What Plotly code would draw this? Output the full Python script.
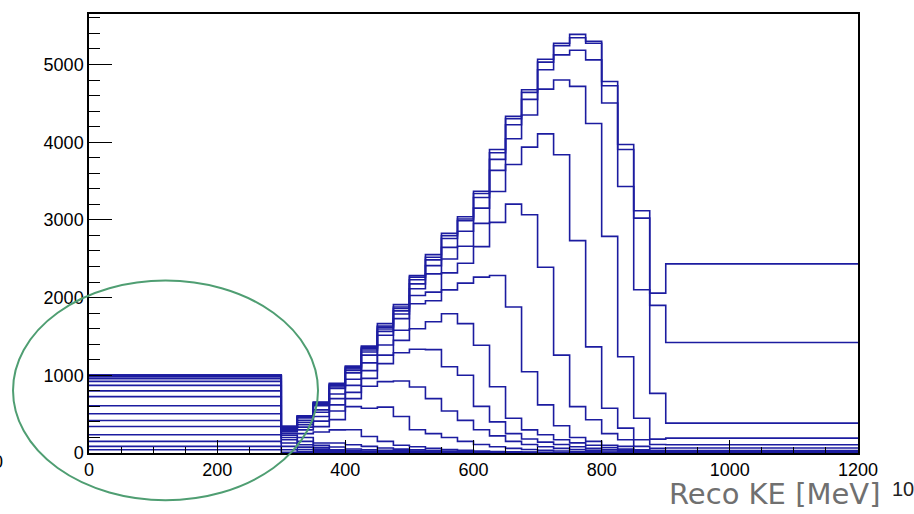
import numpy as np
import plotly.graph_objects as go

# Reco KE bin edges [MeV]: one wide low bin, 25 MeV bins from 300 to 900, one wide high bin
bin_edges = [0, 300] + list(range(325, 901, 25)) + [1200]

# Stacked (cumulative) event counts, from the lowest true-KE slice up to the full sum
level_01 = [42, 10, 5, 5, 4, 3, 2, 2, 1, 1, 1, 1, 1, 0, 0, 0, 0, 0, 0, 0, 0, 0, 0, 0, 0, 0]
level_02 = [85, 42, 20, 15, 10, 7, 5, 4, 3, 3, 2, 2, 2, 1, 1, 1, 1, 0, 0, 0, 0, 0, 0, 0, 0, 0]
level_03 = [149, 85, 45, 30, 18, 12, 9, 7, 6, 5, 4, 3, 3, 2, 2, 2, 1, 1, 1, 1, 0, 0, 0, 0, 0, 0]
level_04 = [234, 128, 75, 50, 30, 20, 15, 12, 10, 8, 7, 6, 5, 4, 3, 3, 2, 2, 1, 1, 1, 0, 0, 0, 0, 0]
level_05 = [341, 170, 107, 70, 42, 30, 25, 20, 18, 15, 12, 10, 8, 6, 5, 4, 3, 3, 2, 2, 1, 1, 1, 0, 0, 0]
level_06 = [418, 200, 150, 98, 77, 51, 42, 35, 30, 25, 20, 15, 12, 10, 8, 6, 5, 4, 3, 2, 2, 1, 1, 1, 0, 0]
level_07 = [505, 230, 200, 128, 128, 106, 85, 64, 50, 40, 30, 25, 20, 15, 12, 9, 7, 5, 4, 3, 3, 2, 2, 1, 1, 0]
level_08 = [608, 255, 250, 270, 298, 300, 213, 150, 100, 80, 60, 45, 35, 25, 20, 15, 12, 9, 7, 5, 4, 3, 2, 2, 1, 1]
level_09 = [726, 275, 298, 340, 430, 597, 576, 590, 470, 300, 250, 200, 150, 110, 80, 60, 45, 35, 25, 20, 15, 10, 8, 5, 3, 2]
level_10 = [800, 290, 333, 410, 540, 700, 860, 918, 926, 850, 700, 540, 420, 300, 220, 150, 110, 80, 60, 45, 35, 25, 20, 12, 8, 5]
level_11 = [870, 305, 363, 470, 620, 780, 960, 1150, 1290, 1336, 1330, 1110, 1000, 600, 400, 250, 180, 140, 110, 80, 60, 45, 35, 20, 12, 8]
level_12 = [922, 315, 392, 525, 700, 870, 1060, 1260, 1450, 1600, 1690, 1793, 1665, 1387, 853, 448, 298, 234, 170, 130, 100, 70, 50, 30, 20, 15]
level_13 = [955, 322, 420, 555, 760, 950, 1160, 1390, 1580, 1921, 1960, 2100, 2186, 2263, 2284, 1879, 1046, 619, 350, 200, 150, 100, 85, 42, 30, 30]
level_14 = [980, 328, 450, 610, 830, 1031, 1260, 1515, 1729, 2027, 2070, 2318, 2442, 2656, 2968, 3203, 3066, 2391, 1260, 597, 427, 250, 170, 85, 60, 64]
level_15 = [992, 333, 460, 625, 850, 1061, 1300, 1565, 1789, 2113, 2305, 2497, 2660, 2955, 3365, 3714, 3937, 4107, 3838, 2733, 1366, 576, 320, 170, 110, 106]
level_16 = [998, 337, 465, 635, 865, 1081, 1325, 1595, 1829, 2177, 2412, 2647, 2853, 3152, 3638, 4044, 4351, 4683, 4800, 4718, 4240, 2788, 1238, 448, 179, 192]
level_17 = [1000, 340, 470, 643, 877, 1096, 1345, 1620, 1859, 2229, 2485, 2760, 2990, 3288, 3779, 4224, 4551, 4932, 5124, 5183, 5060, 4504, 3429, 2101, 768, 384]
level_18 = [1002, 342, 475, 650, 887, 1108, 1360, 1635, 1879, 2263, 2519, 2796, 3011, 3339, 3864, 4304, 4641, 5030, 5243, 5345, 5273, 4726, 3907, 3023, 1900, 1422]
level_19 = [1003, 345, 480, 657, 897, 1120, 1375, 1665, 1909, 2284, 2553, 2826, 3040, 3368, 3907, 4334, 4676, 5068, 5273, 5388, 5300, 4782, 3971, 3117, 2057, 2434]

levels = [level_01, level_02, level_03, level_04, level_05, level_06, level_07,
          level_08, level_09, level_10, level_11, level_12, level_13, level_14,
          level_15, level_16, level_17, level_18, level_19]

x_ticks = [0, 200, 400, 600, 800, 1000, 1200]
y_ticks = [0, 1000, 2000, 3000, 4000, 5000]

LINE_COLOR = "#1c1ca0"
TICK_FONT = dict(family="Liberation Sans, Arial, sans-serif", size=18, color="black")

fig = go.Figure()
for counts in levels:
    # outline histogram: one point per bin edge, horizontal-then-vertical steps
    xs = bin_edges
    ys = list(counts) + [counts[-1]]
    fig.add_trace(go.Scatter(
        x=xs, y=ys, mode="lines", line_shape="hv",
        line=dict(color=LINE_COLOR, width=1.6),
        hoverinfo="skip", showlegend=False,
    ))

fig.update_xaxes(
    range=[0, 1200], tickvals=x_ticks, ticktext=[str(v) for v in x_ticks],
    ticks="inside", ticklen=13, tickwidth=1.2, tickcolor="black",
    minor=dict(dtick=50, ticks="inside", ticklen=6, tickcolor="black", tickwidth=1.2),
    showline=True, linecolor="black", linewidth=1.5, mirror=True,
    showgrid=False, zeroline=False, tickfont=TICK_FONT,
)
fig.update_yaxes(
    range=[0, 5650], tickvals=y_ticks, ticktext=[str(v) for v in y_ticks],
    ticks="inside", ticklen=23, tickwidth=1.2, tickcolor="black",
    minor=dict(dtick=200, ticks="inside", ticklen=11, tickcolor="black", tickwidth=1.2),
    showline=True, linecolor="black", linewidth=1.5, mirror=True,
    showgrid=False, zeroline=False, tickfont=TICK_FONT,
)

# highlight ring around the low-energy region
fig.add_shape(
    type="circle", xref="paper", yref="paper",
    x0=-0.0988, x1=0.2978, y0=-0.1074, y1=0.3927,
    line=dict(color="#4f9e72", width=2), layer="above",
)

# axis title set in the slide font
fig.add_annotation(
    text="Reco KE [MeV]", xref="paper", yref="paper",
    x=1.031, y=-0.1375, xanchor="right", yanchor="bottom", showarrow=False,
    font=dict(family="DejaVu Sans, Open Sans, sans-serif", size=29, color="#707070"),
)

# fragments of the underlying axis labels at the page edges
fig.add_annotation(
    text="0", xref="paper", yref="paper",
    x=-0.1183, y=-0.02, xanchor="center", yanchor="middle", showarrow=False,
    font=dict(family="Liberation Sans, Arial, sans-serif", size=18, color="black"),
)
fig.add_annotation(
    text="10", xref="paper", yref="paper",
    x=1.0416, y=-0.081, xanchor="left", yanchor="middle", showarrow=False,
    font=dict(family="Liberation Sans, Arial, sans-serif", size=20, color="#222222"),
)

fig.update_layout(
    width=914, height=514,
    margin=dict(l=89, r=56, t=12, b=61),
    paper_bgcolor="white", plot_bgcolor="white",
)

fig.write_html("out.html")
